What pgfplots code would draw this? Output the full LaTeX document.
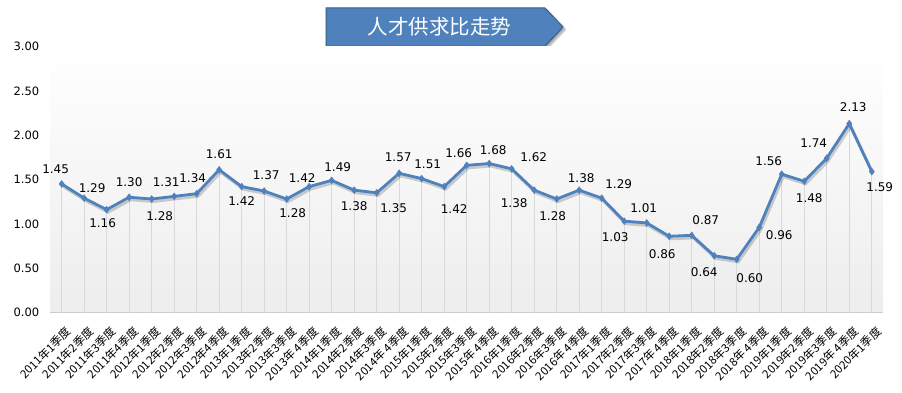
\documentclass[border=0pt]{standalone}
\usepackage{fontspec}
\setmainfont{DejaVu Sans}
\newfontfamily\cjk{Noto Sans CJK SC}
\usepackage{pgfplots}
\pgfplotsset{compat=1.18}
\usepackage{pgfplotstable}
\usetikzlibrary{shadows.blur}
\definecolor{lineblue}{RGB}{79,129,189}
\definecolor{bannerdark}{RGB}{56,93,138}

\pgfplotstableread{
x y dx dy
0 1.45 -6 15
1 1.29 8 10
2 1.16 -4 -13
3 1.30 0 15
4 1.28 8 -17
5 1.31 -8 14
6 1.34 -4 16
7 1.61 0 16
8 1.42 0 -14
9 1.37 2 16
10 1.28 6 -14
11 1.42 -7 9
12 1.49 6 13
13 1.38 0 -16
14 1.35 17 -15
15 1.57 -1 16
16 1.51 6 14
17 1.42 10 -22
18 1.66 -8 12
19 1.68 4 13
20 1.62 22 12
21 1.38 -20 -13
22 1.28 -4 -17
23 1.38 2 12
24 1.29 17 14
25 1.03 -9 -16
26 1.01 -3 15
27 0.86 -7 -18
28 0.87 14 15
29 0.64 -10 -16
30 0.60 13 -19
31 0.96 20 -8
32 1.56 -13 13
33 1.48 5 -17
34 1.74 -13 15
35 2.13 4 17
36 1.59 8 -16
}\data

\begin{document}
\begin{tikzpicture}[x=1pt,y=1pt]
\useasboundingbox (0,0) rectangle (902,392);
\draw[fill=lineblue, draw=bannerdark, line width=1pt,
  blur shadow={shadow xshift=2pt, shadow yshift=-2.5pt, shadow blur steps=6, shadow opacity=40}]
  (326,384) -- (545,384) -- (563,365) -- (545,346) -- (326,346) -- cycle;
\node[white, font=\cjk\fontsize{20.5}{22}\selectfont] at (439.5,365) {人才供求比走势};
\begin{axis}[
  scale only axis, width=832.6pt, height=266pt,
  at={(50.4pt,79.5pt)}, anchor=south west,
  xmin=-0.5, xmax=36.5, ymin=0, ymax=3,
  clip=false,
  axis line style={draw=none},
  major tick length=0pt,
  axis background/.style={shade, top color=white, bottom color=black!7},
  ytick={0,0.5,...,3},
  /pgf/number format/assume math mode=true,
  yticklabel style={font=\fontsize{11.5}{13}\selectfont, anchor=east, inner sep=0pt, xshift=-11pt,
    /pgf/number format/fixed, /pgf/number format/fixed zerofill, /pgf/number format/precision=2},
  xtick={0,...,36},
  xticklabels={2011年1季度,2011年2季度,2011年3季度,2011年4季度,
    2012年1季度,2012年2季度,2012年3季度,2012年4季度,
    2013年1季度,2013年2季度,2013年3季度,2013年 4季度,
    2014年1季度,2014年2季度,2014年3季度,2014年 4季度,
    2015年1季度,2015年2季度,2015年3季度,2015年 4季度,
    2016年1季度,2016年2季度,2016年3季度,2016年 4季度,
    2017年1季度,2017年2季度,2017年3季度,2017年 4季度,
    2018年1季度,2018年2季度,2018年3季度,2018年 4季度,
    2019年1季度,2019年2季度,2019年3季度,2019年 4季度,
    2020年1季度},
  xticklabel style={font=\cjk\fontsize{11.5}{13}\selectfont, inner sep=0pt,
    xshift=7.5pt, yshift=-16.5pt, rotate=45, anchor=east},
]
\draw[black!20, line width=1pt] (axis cs:-0.5,0) -- (axis cs:36.5,0);
\addplot[ycomb, draw=black!15, line width=0.8pt, no marks] table[x=x,y=y]{\data};
\addplot[black, opacity=0.18, line width=3pt, no marks, xshift=1.5pt, yshift=-2.5pt] table[x=x,y=y]{\data};
\addplot[color=lineblue, line width=2.8pt, mark=diamond*, mark size=3.4pt,
  mark options={solid, line width=0.5pt, fill=lineblue},
  point meta=y,
  nodes near coords={\pgfmathprintnumber[fixed,fixed zerofill,precision=2]{\pgfplotspointmeta}},
  visualization depends on={\thisrow{dx} \as \ldx},
  visualization depends on={\thisrow{dy} \as \ldy},
  every node near coord/.append style={anchor=center, xshift=\ldx pt, yshift=\ldy pt,
    black, font=\fontsize{12}{14}\selectfont, inner sep=0pt},
] table[x=x,y=y]{\data};
\end{axis}
\end{tikzpicture}
\end{document}
